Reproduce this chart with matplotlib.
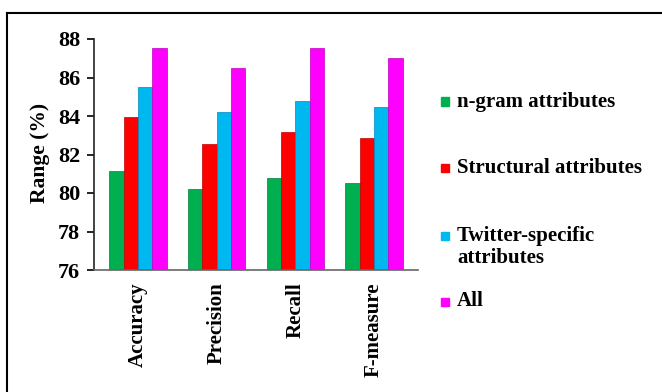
import matplotlib
matplotlib.use('Agg')

import matplotlib.pyplot as plt
import numpy as np
from matplotlib.lines import Line2D
from matplotlib.patches import Rectangle

plt.rcParams['font.family'] = ['Liberation Serif', 'DejaVu Serif']
plt.rcParams['font.weight'] = 'bold'

metrics = ['Accuracy', 'Precision', 'Recall', 'F-measure']
series_names = ['n-gram attributes', 'Structural attributes',
                'Twitter-specific\nattributes', 'All']
ngram = [81.16, 80.22, 80.80, 80.54]
structural = [83.93, 82.53, 83.17, 82.86]
twitter = [85.49, 84.22, 84.76, 84.48]
all_attrs = [87.55, 86.49, 87.53, 87.03]
colors = ['#00B050', '#FF0000', '#00B8F0', '#FF00FF']
edges = ['#00803a', '#c00000', '#0088bb', '#c000c0']

fig = plt.figure(figsize=(6.62, 3.92), dpi=100)
ax = fig.add_axes([94 / 662, 1 - 270 / 392, 324 / 662, 231 / 392])

x = np.arange(len(metrics))
width = 0.183
for i, vals in enumerate([ngram, structural, twitter, all_attrs]):
    ax.bar(x + (i - 1.5) * width, np.array(vals) - 76, width, bottom=76,
           color=colors[i], edgecolor=edges[i], linewidth=0.5)

ax.set_xlim(-0.56, 3.56)
ax.set_ylim(76, 88)
ax.set_yticks(range(76, 89, 2))
ax.set_xticks(x)
ax.set_xticklabels(metrics, rotation=90, fontsize=15, fontweight='bold')
ax.tick_params(axis='x', length=0, pad=9)
ax.tick_params(axis='y', direction='out', length=5, width=1.2,
               labelsize=16, pad=5)
for lbl in ax.get_yticklabels():
    lbl.set_fontweight('bold')
ax.set_ylabel('Range (%)', fontsize=15.5, fontweight='bold')
ax.yaxis.set_label_coords(-0.136, 0.506)

for side in ['top', 'right']:
    ax.spines[side].set_visible(False)
ax.spines['left'].set_color('#222222')
ax.spines['left'].set_linewidth(1.2)
ax.spines['bottom'].set_color('#666666')
ax.spines['bottom'].set_linewidth(1.2)

# legend drawn by hand so the marker sits on the first text line
legend_y = [101.5, 168, 235.5, 301.5]
for name, c, y in zip(series_names, colors, legend_y):
    fig.patches.append(Rectangle((441 / 662, 1 - (y + 4) / 392), 8 / 662, 8 / 392,
                                 transform=fig.transFigure, color=c))
    fig.text(457 / 662, 1 - (y - 10) / 392, name, fontsize=15, fontweight='bold',
             va='top', ha='left', linespacing=1.15)

# outer frame: top and left edges only
fig.add_artist(Line2D([6.5 / 662, 6.5 / 662], [0, 1 - 12.5 / 392],
                      transform=fig.transFigure, color='black', lw=1.5))
fig.add_artist(Line2D([6.5 / 662, 1], [1 - 12.5 / 392, 1 - 12.5 / 392],
                      transform=fig.transFigure, color='black', lw=1.5))

fig.savefig('out.png', dpi=100)
